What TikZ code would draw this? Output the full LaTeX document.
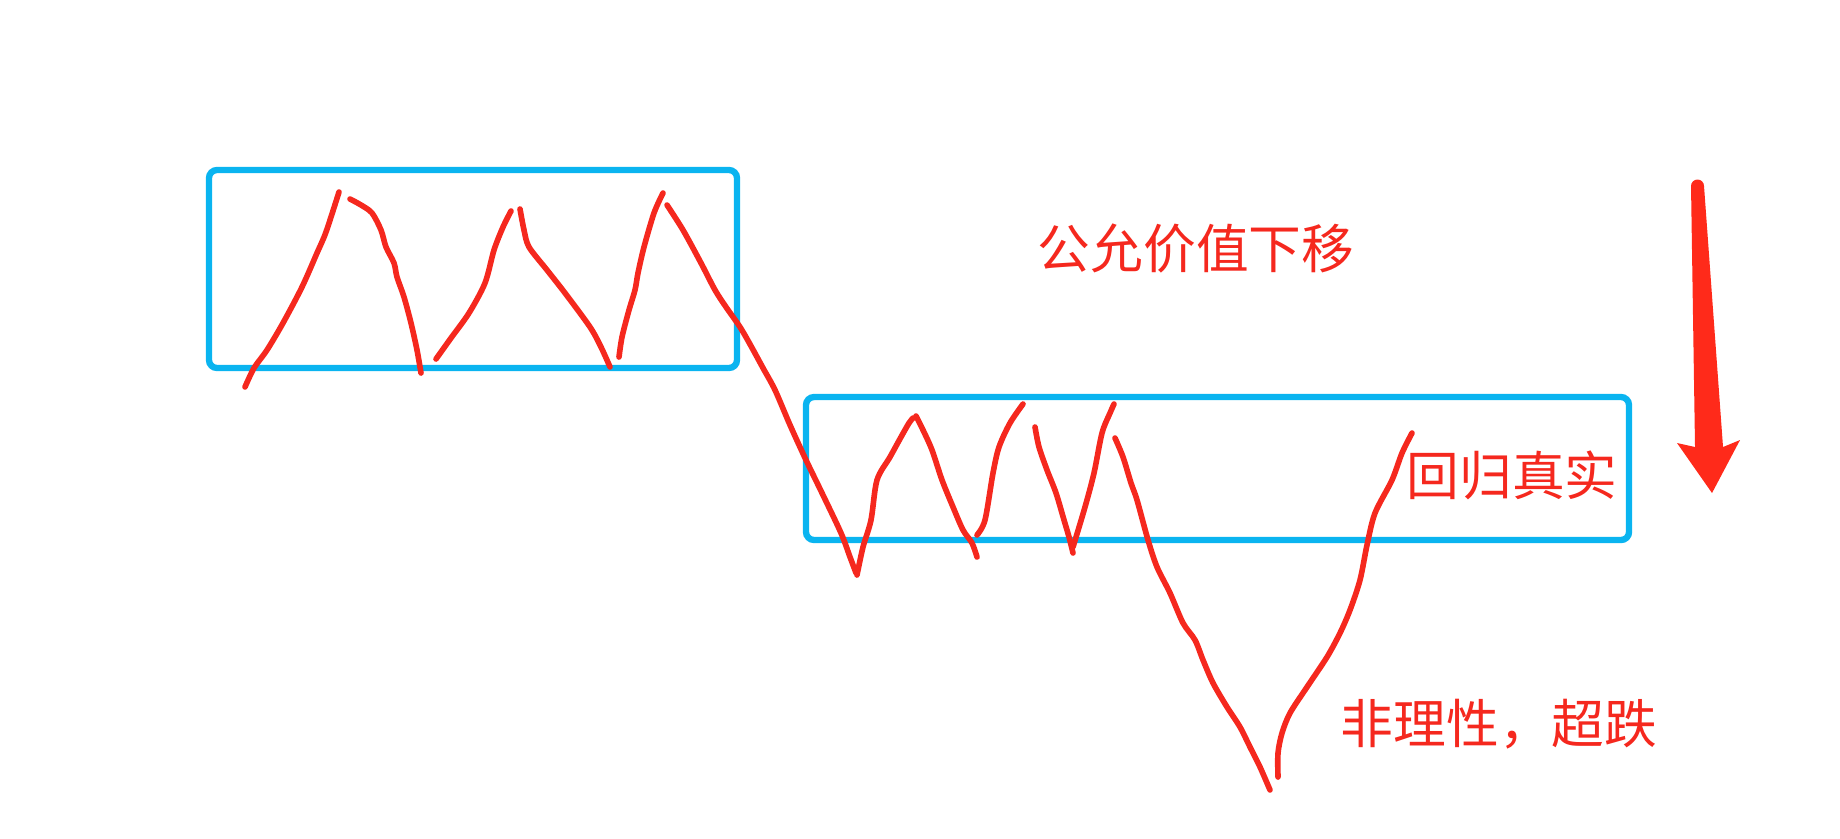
\documentclass[tikz,border=0pt]{standalone}
\usepackage{fontspec}
\usepackage{xcolor}
\usepackage{tikz}
\usetikzlibrary{positioning}
\newfontfamily\cjk{Noto Sans CJK SC}
\definecolor{boxblue}{HTML}{0AB4F0}
\definecolor{penred}{HTML}{F5281E}
\definecolor{arrowred}{HTML}{FF2A1A}

\begin{document}
\begin{tikzpicture}[x=0.01cm, y=-0.01cm,
  pen/.style={penred, line width=1.6pt, line cap=round, line join=round},
  rangebox/.style={boxblue, line width=1.8pt, rounded corners=0.08cm},
  note/.style={penred, font=\cjk\fontsize{15}{15}\selectfont, inner sep=0pt, anchor=base}]
\useasboundingbox (0,0) rectangle (1840,838);

% Trading ranges
\draw[rangebox] (209,170) rectangle (737,368);
\draw[rangebox] (806,397) rectangle (1629,540);

% Upper range swings
\draw[pen] plot[smooth] coordinates {(245,387) (254,368) (267,350) (283,323) (302,287) (317,253) (326,232) (339,192)};
\draw[pen] plot[smooth] coordinates {(350,199) (361,205) (372,213) (381,230) (386,247) (394,263) (397,277) (404,297) (411,323) (417,350) (421,373)};
\draw[pen] plot[smooth] coordinates {(436,359) (451,338) (469,313) (485,283) (494,250) (503,227) (511,211)};
\draw[pen] plot[smooth] coordinates {(520,209) (524,230) (529,247) (547,270) (565,293) (590,327) (601,347) (610,367)};
\draw[pen] plot[smooth] coordinates {(619,357) (622,337) (629,310) (635,290) (638,273) (644,247) (654,213) (663,193)};

% Slide down into the lower range
\draw[pen] plot[smooth] coordinates {(667,205) (683,230) (701,263) (715,290) (726,307) (740,327) (751,346) (763,368) (775,390) (790,425) (806,460) (822,493) (841,533) (850,557) (856,573)};

% Lower range swings
\draw[pen] plot[smooth] coordinates {(857,575) (863,547) (871,520) (877,480) (890,457) (901,437) (909,423) (913,418)};
\draw[pen] plot[smooth] coordinates {(916,416) (923,430) (932,450) (942,480) (953,507) (963,530) (972,543) (977,557)};
\draw[pen] plot[smooth] coordinates {(977,535) (985,520) (993,473) (999,447) (1010,423) (1023,404)};
\draw[pen] plot[smooth] coordinates {(1035,427) (1039,447) (1047,470) (1056,493) (1064,520) (1069,537) (1073,553)};
\draw[pen] plot[smooth] coordinates {(1073,547) (1085,507) (1094,473) (1102,433) (1110,413) (1114,404)};

% Overshoot and rebound
\draw[pen] plot[smooth] coordinates {(1115,438) (1123,457) (1131,483) (1137,500) (1148,540) (1157,567) (1170,593) (1183,623) (1195,640) (1203,660) (1213,683) (1227,707) (1240,727) (1250,747) (1260,767) (1270,790)};
\draw[pen] plot[smooth] coordinates {(1278,777) (1278,753) (1282,733) (1290,713) (1307,687) (1327,657) (1340,633) (1350,610) (1360,580) (1367,545) (1375,513) (1392,480) (1402,453) (1412,433)};

% Down arrow
\fill[arrowred] (1691,186) -- (1695,447) -- (1677,443) -- (1712,493) -- (1740,440) -- (1723,447) -- (1704,186) -- cycle;
\fill[arrowred] (1697.5,186) circle (0.065cm);

% Labels
\node[note] (drift) at (1196,268) {公允价值下移};
\node[note] (revert) at (1512,495) {回归真实};
\node[note] (overshoot) at (1499,743) {非理性，超跌};
\end{tikzpicture}
\end{document}
